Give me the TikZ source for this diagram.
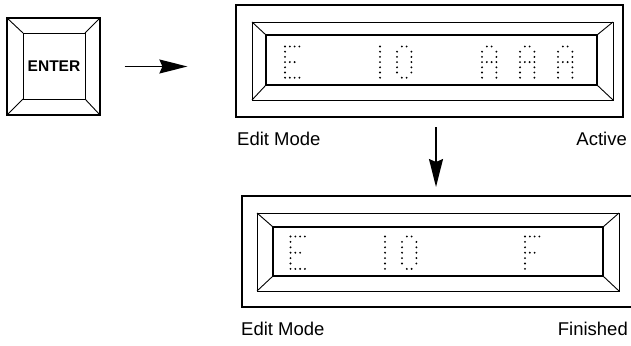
\documentclass[tikz,border=0pt]{standalone}
\usepackage{fontspec}
\setmainfont{Liberation Sans}
\usetikzlibrary{arrows.meta}
\def\glyphE{0/0,0/1,0/2,0/3,0/4,0/5,0/6,1/0,2/0,3/0,1/3,2/3,1/6,2/6,3/6}
\def\glyphF{0/0,0/1,0/2,0/3,0/4,0/5,0/6,1/0,2/0,3/0,1/3,2/3}
\def\glyphOne{0/0,0/1,0/2,0/3,0/4,0/5,0/6}
\def\glyphZero{0/1,0/2,0/3,0/4,0/5,3/1,3/2,3/3,3/4,3/5,1/0,2/0,1/6,2/6}
\def\glyphA{0/1,0/2,0/3,0/4,0/5,0/6,3/1,3/2,3/3,3/4,3/5,3/6,1/0,2/0,1/3,2/3}
\newcommand\dotglyph[4]{\foreach \c/\r in #3 {\fill (#1+\c*4.8,#2+\r*#4) circle (1.05pt);}}
\tikzset{
  frame/.style={draw, line width=1.2pt, inner sep=0pt},
  bevel/.style={line width=0.9pt},
  inrect/.style={line width=1.2pt},
  lbl/.style={font=\fontsize{18.5}{20}\selectfont, inner sep=0pt},
  bigarrow/.style={line width=1.5pt, -{Stealth[length=28pt,width=14pt,inset=3pt]}}
}
\begin{document}
\begin{tikzpicture}[x=1pt,y=-1pt]
\useasboundingbox (0,0) rectangle (631,345);
% ENTER key
\node[frame, minimum width=93pt, minimum height=97pt] (key) at (53.5,66.5) {};
\draw[bevel] (23,33) rectangle (85,99);
\draw[bevel] (7,18) -- (23,33) (100,18) -- (85,33) (7,115) -- (23,99) (100,115) -- (85,99);
\node[font=\bfseries\fontsize{15.5}{17}\selectfont, inner sep=0pt] (entertxt) at (54,66.5) {ENTER};
% top display
\node[frame, minimum width=387pt, minimum height=112pt] (topdisp) at (429.5,61) {};
\draw[bevel] (252,22) rectangle (613,100);
\draw[inrect] (266,35) rectangle (597,85);
\draw[bevel] (252,22) -- (266,35) (613,22) -- (597,35) (252,100) -- (266,85) (613,100) -- (597,85);
\dotglyph{285}{46.5}{\glyphE}{5.2}
\dotglyph{380}{46.5}{\glyphOne}{5.2}
\dotglyph{397}{46.5}{\glyphZero}{5.2}
\dotglyph{482}{46.5}{\glyphA}{5.2}
\dotglyph{520}{46.5}{\glyphA}{5.2}
\dotglyph{558}{46.5}{\glyphA}{5.2}
\node[lbl, anchor=base west] (edit1) at (237,145) {Edit Mode};
\node[lbl, anchor=base east] (active) at (627,145) {Active};
% bottom display
\node[inner sep=0pt, minimum width=389pt, minimum height=111pt] (botdisp) at (436.5,251.5) {};
\draw[line width=1.2pt] (631,196) -- (242,196) -- (242,307) -- (631,307);
\draw[bevel] (257,213) rectangle (619,291);
\draw[inrect] (273,227) rectangle (603,276);
\draw[bevel] (257,213) -- (273,227) (619,213) -- (603,227) (257,291) -- (273,276) (619,291) -- (603,276);
\dotglyph{290.5}{236.5}{\glyphE}{5.4}
\dotglyph{385}{236.5}{\glyphOne}{5.4}
\dotglyph{402}{236.5}{\glyphZero}{5.4}
\dotglyph{525}{236.5}{\glyphF}{5.4}
\node[lbl, anchor=base west] (edit2) at (241,335) {Edit Mode};
\node[lbl, anchor=base east] (finished) at (628,335) {Finished};
% arrows
\draw[bigarrow, shorten <=24pt, shorten >=48pt] (key.east) -- (topdisp.west |- key.east);
\coordinate (d1) at (436,117);
\coordinate (d2) at (436,196);
\draw[bigarrow, shorten <=10pt, shorten >=9pt] (d1) -- (d2);
\end{tikzpicture}
\end{document}
